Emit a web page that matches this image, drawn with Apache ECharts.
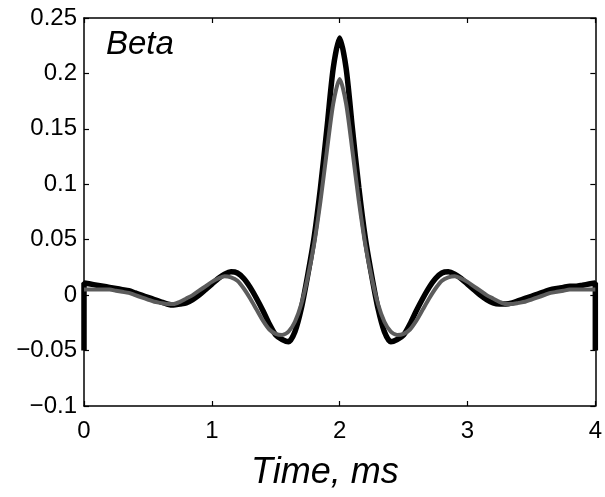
<!DOCTYPE html>
<html>
<head>
<meta charset="utf-8">
<script src="https://cdn.jsdelivr.net/npm/echarts@6/dist/echarts.min.js"></script>
<style>
html,body{margin:0;padding:0;background:#fff;}
#c{width:605px;height:497px;}
</style>
</head>
<body>
<div id="c"></div>
<script>
// Time in ms (0.05 ms steps)
var times = [0.00,0.05,0.10,0.15,0.20,0.25,0.30,0.35,0.40,0.45,0.50,0.55,0.60,0.65,0.70,0.75,0.80,0.85,0.90,0.95,
  1.00,1.05,1.10,1.15,1.20,1.25,1.30,1.35,1.40,1.45,1.50,1.55,1.60,1.65,1.70,1.75,1.80,1.85,1.90,1.95,
  2.00,2.05,2.10,2.15,2.20,2.25,2.30,2.35,2.40,2.45,2.50,2.55,2.60,2.65,2.70,2.75,2.80,2.85,2.90,2.95,
  3.00,3.05,3.10,3.15,3.20,3.25,3.30,3.35,3.40,3.45,3.50,3.55,3.60,3.65,3.70,3.75,3.80,3.85,3.90,3.95,4.00];

// black curve
var blackValues = [0.011,0.010,0.009,0.008,0.007,0.006,0.005,0.004,0.002,0.000,-0.002,-0.004,-0.006,-0.008,-0.009,-0.008,-0.007,-0.004,0.000,0.005,
  0.010,0.015,0.019,0.021,0.020,0.015,0.007,-0.003,-0.014,-0.026,-0.036,-0.040,-0.042,-0.033,-0.012,0.018,0.052,0.097,0.150,0.205,
  0.232,0.205,0.150,0.097,0.052,0.018,-0.012,-0.033,-0.042,-0.040,-0.036,-0.026,-0.014,-0.003,0.007,0.015,0.020,0.021,0.019,0.015,
  0.010,0.005,0.000,-0.004,-0.007,-0.008,-0.008,-0.007,-0.005,-0.003,-0.001,0.001,0.003,0.005,0.006,0.007,0.008,0.008,0.009,0.010,0.011];

// gray curve
var grayValues = [0.005,0.005,0.005,0.005,0.005,0.004,0.003,0.002,0.000,-0.002,-0.004,-0.006,-0.007,-0.008,-0.008,-0.006,-0.003,0.000,0.004,0.008,
  0.012,0.015,0.017,0.016,0.013,0.006,-0.003,-0.013,-0.023,-0.031,-0.035,-0.036,-0.033,-0.024,-0.008,0.016,0.046,0.085,0.130,0.173,
  0.195,0.173,0.130,0.085,0.046,0.016,-0.008,-0.024,-0.033,-0.036,-0.035,-0.031,-0.023,-0.013,-0.003,0.006,0.013,0.016,0.017,0.015,
  0.012,0.008,0.004,0.000,-0.003,-0.006,-0.008,-0.008,-0.007,-0.006,-0.004,-0.002,0.000,0.002,0.003,0.004,0.005,0.005,0.005,0.005,0.005];

// end artefacts: vertical drop at both ends of the black trace
var edgeLow = -0.05;

var yTickStep = 0.05;

function pairs(v){ return times.map(function(t,i){ return [t, v[i]]; }); }
var blackData = [[0, edgeLow]].concat(pairs(blackValues)).concat([[4, edgeLow]]);
var grayData = pairs(grayValues);

var font = 'Liberation Sans, Arial, Helvetica, sans-serif';
var axisLine = {show:true, onZero:false, lineStyle:{color:'#000', width:1.5}};
var tickIn = {show:true, inside:true, length:5, lineStyle:{color:'#000', width:1.2}};

var chart = echarts.init(document.getElementById('c'), null, {renderer:'canvas'});
chart.setOption({
  animation:false,
  backgroundColor:'#fff',
  grid:{left:84, right:8, top:18, bottom:91, containLabel:false},
  xAxis:[{
    type:'value', min:0, max:4, interval:1, position:'bottom',
    axisLine:axisLine, axisTick:tickIn, splitLine:{show:false},
    axisLabel:{color:'#000', fontSize:24, fontFamily:font, margin:13}
  },{
    type:'value', min:0, max:4, interval:1, position:'top',
    axisLine:axisLine, axisTick:tickIn, axisLabel:{show:false}, splitLine:{show:false}
  }],
  yAxis:[{
    type:'value', min:-0.1, max:0.25, interval:yTickStep, position:'left',
    axisLine:axisLine, axisTick:tickIn, splitLine:{show:false},
    axisLabel:{color:'#000', fontSize:24, fontFamily:font, margin:7,
      formatter:function(v){ var s = (Math.round(v*100)/100).toString(); return s.replace('-', '\u2212'); }}
  },{
    type:'value', min:-0.1, max:0.25, interval:yTickStep, position:'right',
    axisLine:axisLine, axisTick:tickIn, axisLabel:{show:false}, splitLine:{show:false}
  }],
  graphic:[{
    type:'text', left:106, top:28,
    style:{text:'Beta', fill:'#000', font:'italic 33px ' + font}
  },{
    type:'text', left:251, top:455,
    style:{text:'Time, ms', fill:'#000', font:'italic 36px ' + font}
  }],
  series:[{
    type:'line', data:blackData, showSymbol:false, symbol:'none', smooth:0.25,
    lineStyle:{color:'#000', width:5.5}, z:2
  },{
    type:'line', data:grayData, showSymbol:false, symbol:'none', smooth:0.25,
    lineStyle:{color:'#5c5c5c', width:4}, z:3
  }]
});
</script>
</body>
</html>
